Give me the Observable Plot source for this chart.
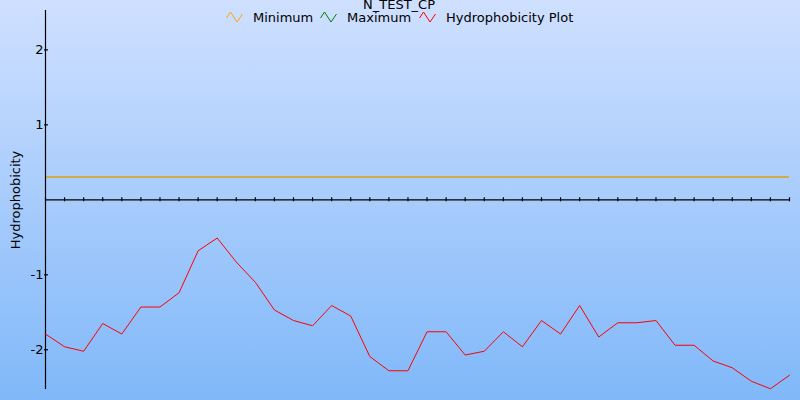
<!DOCTYPE html>
<html><head><meta charset="utf-8">
<script src="https://cdn.jsdelivr.net/npm/d3@7"></script>
<script src="https://cdn.jsdelivr.net/npm/@observablehq/plot@0.6"></script>
<style>
html,body{margin:0;padding:0;}
#wrap{position:relative;width:800px;height:400px;overflow:hidden;background:linear-gradient(to bottom,#cfe0ff,#80b8f9);font-family:"DejaVu Sans";font-size:13px;color:#000;}
#wrap svg{position:absolute;left:0;top:0;}
.t{position:absolute;line-height:13px;white-space:nowrap;}
.ic{position:absolute;}
</style>
</head><body>
<div id="wrap">
  <div class="t" id="title" style="left:0;width:798px;text-align:center;top:-2px;">N_TEST_CP</div>
</div>
<script>
// Title and legend
const chartTitle = "N_TEST_CP";
const yLabel = "Hydrophobicity";
const seriesNames = ["Minimum", "Maximum", "Hydrophobicity Plot"];
const seriesColors = ["#ffa500", "#008000", "#ff0000"];

// Residue window positions (x)
const positions = [1,2,3,4,5,6,7,8,9,10,11,12,13,14,15,16,17,18,19,20,21,22,23,24,25,26,27,28,29,30,31,32,33,34,35,36,37,38,39,40];
// Hydrophobicity values
const hydro = [-1.79,-1.96,-2.02,-1.65,-1.79,-1.43,-1.43,-1.24,-0.68,-0.51,
               -0.83,-1.10,-1.47,-1.61,-1.68,-1.41,-1.55,-2.09,-2.28,-2.28,
               -1.76,-1.76,-2.07,-2.02,-1.76,-1.96,-1.61,-1.79,-1.41,-1.83,
               -1.64,-1.64,-1.61,-1.94,-1.94,-2.15,-2.24,-2.42,-2.52,-2.34];
const minimumValue = 0.31;
const maximumValue = 0.31;
const yTicks = [2, 1, -1, -2];

const data = positions.map((p, i) => ({pos: p, value: hydro[i]}));
const x0 = positions[0], x1 = positions[positions.length - 1];

const chart = Plot.plot({
  width: 800, height: 400,
  marginLeft: 45, marginRight: 11, marginTop: 10, marginBottom: 11,
  style: {background: "transparent", fontFamily: "DejaVu Sans", fontSize: "13px", color: "#000", overflow: "visible"},
  x: {domain: [x0, x1], axis: null},
  y: {domain: [-2.53, 2.525], axis: null},
  marks: [
    Plot.ruleY([maximumValue], {x1: x0, x2: x1, stroke: seriesColors[1], strokeWidth: 1.2}),
    Plot.ruleY([minimumValue], {x1: x0, x2: x1, stroke: seriesColors[0], strokeWidth: 1.2}),
    Plot.ruleX([x0], {stroke: "#000", strokeWidth: 1.2}),
    Plot.ruleY([0], {x1: x0, x2: x1, stroke: "#000", strokeWidth: 1.2}),
    Plot.ruleX(positions, {x: d => d, y1: 0, y2: 0, insetTop: -2, insetBottom: -2, stroke: "#000", strokeWidth: 1.2}),
    Plot.ruleY(yTicks, {y: d => d, x1: x0, x2: x0, insetLeft: -1, insetRight: -3, stroke: "#000", strokeWidth: 1.2}),
    Plot.line(data, {x: "pos", y: "value", stroke: seriesColors[2], strokeWidth: 1}),
    Plot.axisY({ticks: yTicks, tickSize: 0, tickPadding: 2, tickFormat: d => String(d), label: null, fill: "#000"}),
    Plot.text([yLabel], {frameAnchor: "left", textAnchor: "middle", rotate: -90, dx: -30, fill: "#000", fontSize: 13})
  ]
});
const wrap = document.getElementById("wrap");
wrap.appendChild(chart);

// Legend (HTML overlay)
const legendX = [226, 320, 419];
const textX = [253, 347, 446];
seriesNames.forEach((name, i) => {
  const ic = document.createElementNS("http://www.w3.org/2000/svg", "svg");
  ic.setAttribute("class", "ic");
  ic.setAttribute("width", "18"); ic.setAttribute("height", "12");
  ic.style.left = legendX[i] + "px"; ic.style.top = "11px";
  const pl = document.createElementNS("http://www.w3.org/2000/svg", "polyline");
  pl.setAttribute("points", "0.5,7 4.5,1 11,11 16.5,3");
  pl.setAttribute("fill", "none");
  pl.setAttribute("stroke", seriesColors[i]);
  pl.setAttribute("stroke-width", "1");
  ic.appendChild(pl);
  wrap.appendChild(ic);
  const t = document.createElement("div");
  t.className = "t"; t.textContent = name;
  t.style.left = textX[i] + "px"; t.style.top = "11px";
  wrap.appendChild(t);
});
document.getElementById("title").textContent = chartTitle;
</script>
</body></html>
